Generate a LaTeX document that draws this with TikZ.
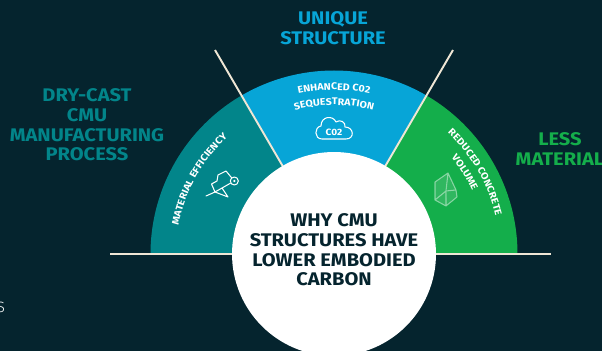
\documentclass[tikz,border=0pt]{standalone}
\usepackage{fontspec}
\setmainfont[FakeStretch=1.1]{Fira Sans}
\usetikzlibrary{decorations.text}
\definecolor{bgdark}{HTML}{05242E}
\definecolor{tealc}{HTML}{02858A}
\definecolor{bluec}{HTML}{07A5D7}
\definecolor{greenc}{HTML}{14AE4B}
\definecolor{cream}{HTML}{EFE6D5}
\begin{document}
\begin{tikzpicture}[x=0.02cm,y=0.02cm,
  headline/.style={font=\fontsize{10.4}{11.2}\selectfont\bfseries,align=center,inner sep=0},
  divider/.style={draw=cream,line width=1.1pt},
  icon line/.style={draw=white,line width=0.6pt,line cap=round,line join=round},
  curved/.style={decorate,decoration={text along path,text align=center,text={|\fontsize{5.5}{6}\selectfont\bfseries\color{white}|#1}}}]

  \useasboundingbox (0,0) rectangle (602,351);
  \fill[bgdark] (0,0) rectangle (602,351);

  \coordinate (c) at (334,97);
  \coordinate (base l) at (110,97);
  \coordinate (base r) at (551,97);
  \coordinate (div l) at (215,301);
  \coordinate (div r) at (453,301);

  \fill[tealc] (c) -- (150.5,97) arc[start angle=180,end angle=120,radius=183.5] -- cycle;
  \fill[bluec] (c) -- ++(120:183.5) arc[start angle=120,end angle=60,radius=183.5] -- cycle;
  \fill[greenc] (c) -- ++(60:183.5) arc[start angle=60,end angle=0,radius=183.5] -- cycle;

 \path[divider]
 (base l) [-] edge node [] {} (base r)
 (c) [-] edge node [] {} (div l)
 (c) [-] edge node [] {} (div r);

  \node[circle,fill=white,minimum size=4.08cm,inner sep=0] (hub) at (c) {};
  \node[headline,text=bgdark] (why) at (334,101) {WHY CMU\\STRUCTURES HAVE\\LOWER EMBODIED\\CARBON};

  \node[headline,text=bluec] (unique) at (333,323) {UNIQUE\\STRUCTURE};
  \node[headline,text=tealc] (dry) at (87,226) {DRY-CAST\\CMU\\MANUFACTURING\\PROCESS};
  \node[headline,text=greenc] (less) at (560,202) {LESS\\MATERIAL};
  \node[text=white,font=\fontsize{8.5}{9}\selectfont\fontspec{Fira Sans Light},inner sep=0] (cut) at (1,44) {S};

  \path[curved={MATERIAL EFFICIENCY}] (c) ++(172:158) arc[start angle=172,end angle=130,radius=158];
  \path[curved={ENHANCED C02}] (c) ++(115:164) arc[start angle=115,end angle=65,radius=164];
  \path[curved={SEQUESTRATION}] (c) ++(115:149) arc[start angle=115,end angle=65,radius=149];
  \path[curved={REDUCED CONCRETE}] (c) ++(52:166) arc[start angle=52,end angle=8,radius=166];
  \path[curved={VOLUME}] (c) ++(50:152) arc[start angle=50,end angle=14,radius=152];

  % cloud
  \path[icon line] (322,212) .. controls (314,212) and (314,224) .. (321,225)
    .. controls (321,235) and (333,236) .. (336,229)
    .. controls (340,232) and (346,229) .. (345,224)
    .. controls (354,224) and (355,212) .. (346,212) -- cycle;
  \node[text=white,font=\fontsize{5.2}{6}\selectfont\bfseries,inner sep=0] (co2) at (334,218.5) {C02};

  % wheelbarrow
  \node[circle,icon line,minimum size=0.16cm,inner sep=0] (wheel) at (234.3,170) {};
  \node[circle,fill=white,minimum size=0.05cm,inner sep=0] (hubcap) at (wheel) {};
  \path[icon line] (226,180) -- (218,176) -- (217,170) -- (211.5,167) -- (215,159) -- (wheel)
    (226,180) -- (wheel)
    (206,155) -- (215,159) -- (228,154) (222,163) -- (228,154);

  % block
  \path[draw=white,draw opacity=0.45,fill=white,fill opacity=0.12,line width=0.6pt,line join=round]
    (435,169) -- (448,178) -- (456,161) -- (457,154) -- (446,145) -- (435,151) -- cycle
    (435,169) -- (435,151) (448,178) -- (446,160) -- (446,145) (446,160) -- (435,151) (446,160) -- (456,161);
\end{tikzpicture}
\end{document}
